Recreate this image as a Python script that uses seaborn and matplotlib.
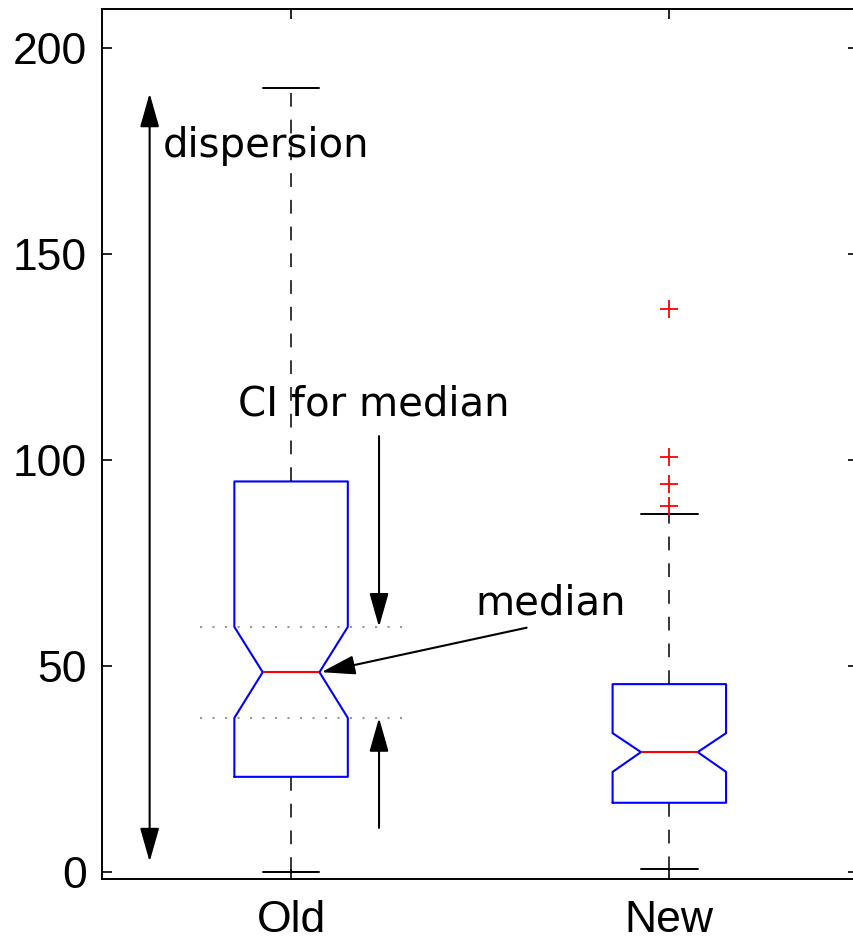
import matplotlib
matplotlib.use("Agg")
import matplotlib.pyplot as plt
import seaborn as sns

# Summary statistics of the two groups
categories = ["Old", "New"]
q1 = [23.1, 16.8]
medians = [48.5, 29.1]
q3 = [94.8, 45.6]
ci_low = [37.4, 24.3]
ci_high = [59.5, 33.7]
whisker_low = [0.0, 0.7]
whisker_high = [190.2, 86.9]
outliers = [[], [136.7, 100.8, 94.2, 88.9]]

y_ticks = [0, 50, 100, 150, 200]

sns.set_style("ticks")
plt.rcParams["font.family"] = ["Liberation Sans", "DejaVu Sans"]

fig = plt.figure(figsize=(8.54, 9.41), dpi=100)
ax = fig.add_axes([0.1194, 0.0659, 0.8858, 0.9246])

stats = []
for i, name in enumerate(categories):
    stats.append(dict(label=name, q1=q1[i], med=medians[i], q3=q3[i],
                      cilo=ci_low[i], cihi=ci_high[i],
                      whislo=whisker_low[i], whishi=whisker_high[i],
                      fliers=outliers[i]))

positions = list(range(1, len(categories) + 1))
ax.bxp(stats, positions=positions, widths=0.3, shownotches=True,
       manage_ticks=False,
       boxprops=dict(color="#0000ff", linewidth=1.5),
       medianprops=dict(color="#ff0000", linewidth=1.5),
       whiskerprops=dict(color="black", linewidth=1.1, linestyle=(0, (9, 8.5))),
       capprops=dict(color="black", linewidth=1.4),
       flierprops=dict(marker="+", markeredgecolor="#ff0000",
                       markersize=12.5, markeredgewidth=1.3, linestyle="none"))

ax.set_xlim(0.5, 2.5)
ax.set_ylim(-1.7, 209.5)
ax.set_xticks(positions)
ax.set_xticklabels(categories)
ax.set_yticks(y_ticks)

for side in ["left", "bottom", "top"]:
    ax.spines[side].set_visible(True)
    ax.spines[side].set_linewidth(1.4)
    ax.spines[side].set_color("black")
ax.spines["right"].set_visible(False)

ax.tick_params(axis="both", direction="in", length=7, width=1.2,
               labelsize=32, colors="black")
ax.tick_params(axis="x", top=True, bottom=True, pad=15)
ax.tick_params(axis="y", left=True, right=True, pad=11)

# Dotted reference lines at the confidence bounds of the first median
for level in (ci_high[0], ci_low[0]):
    ax.plot([0.76, 1.293], [level, level], color="#999999", lw=1.5,
            linestyle=(0, (1, 5)), zorder=1)

note_font = dict(family=["DejaVu Sans"], size=29, color="black")
head = "-|>,head_length=0.95,head_width=0.27"
arrow_kw = dict(mutation_scale=22, lw=1.5, color="black", shrinkA=0, shrinkB=0)

# Range of the first group
ax.annotate("", xy=(0.626, 189.0), xytext=(0.626, 2.5),
            arrowprops=dict(arrowstyle="<|-|>,head_length=0.95,head_width=0.27",
                            **arrow_kw))
ax.text(0.662, 173.5, "dispersion", ha="left", va="baseline", **note_font)

# Confidence interval of the median
ax.text(0.860, 110.9, "CI for median", ha="left", va="baseline", **note_font)
ax.annotate("", xy=(1.2325, ci_high[0]), xytext=(1.2325, 105.8),
            arrowprops=dict(arrowstyle=head, **arrow_kw))
ax.annotate("", xy=(1.2325, ci_low[0]), xytext=(1.2325, 10.7),
            arrowprops=dict(arrowstyle=head, **arrow_kw))

# Median marker
ax.text(1.486, 62.6, "median", ha="left", va="baseline", **note_font)
ax.annotate("", xy=(1.08, medians[0]), xytext=(1.6227, 59.3),
            arrowprops=dict(arrowstyle=head, **arrow_kw))

fig.savefig("out.png", dpi=100)
